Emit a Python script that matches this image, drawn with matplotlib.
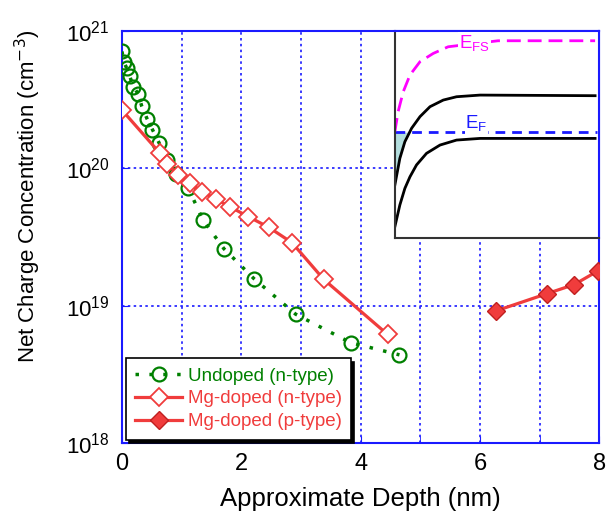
import matplotlib
matplotlib.use("Agg")
import matplotlib.pyplot as plt
from matplotlib.ticker import MultipleLocator

plt.rcParams["font.family"] = ["Liberation Sans", "DejaVu Sans"]

# 未掺杂 (n-type)
undoped_x = [0.0, 0.03, 0.08, 0.13, 0.19, 0.27, 0.33, 0.42, 0.51, 0.62, 0.76, 0.90,
             1.11, 1.36, 1.71, 2.21, 2.91, 3.83, 4.65]
undoped_y = [7.1e20, 6.0e20, 5.35e20, 4.7e20, 3.93e20, 3.5e20, 2.85e20, 2.3e20, 1.92e20,
             1.54e20, 1.15e20, 9.1e19, 7.2e19, 4.2e19, 2.6e19, 1.58e19, 8.7e18, 5.4e18, 4.4e18]

# Mg 掺杂 (n-type)
mg_n_x = [0.0, 0.63, 0.76, 0.94, 1.14, 1.34, 1.58, 1.81, 2.12, 2.46, 2.85, 3.38, 4.45]
mg_n_y = [2.66e20, 1.30e20, 1.08e20, 8.95e19, 7.8e19, 6.77e19, 5.96e19, 5.26e19,
          4.45e19, 3.73e19, 2.88e19, 1.56e19, 6.2e18]

# Mg 掺杂 (p-type)
mg_p_x = [6.27, 7.13, 7.58, 7.97]
mg_p_y = [9.2e18, 1.23e19, 1.43e19, 1.79e19]

# 插图：能带示意 (坐标 0..1)
cb_x = [0.0, 0.0245, 0.049, 0.082, 0.123, 0.172, 0.237, 0.302, 0.417, 0.98]
cb_y = [0.257, 0.386, 0.466, 0.531, 0.587, 0.635, 0.667, 0.683, 0.691, 0.688]
vb_x = [0.0, 0.0245, 0.049, 0.074, 0.106, 0.155, 0.221, 0.302, 0.417, 0.98]
vb_y = [0.056, 0.161, 0.241, 0.297, 0.354, 0.410, 0.450, 0.474, 0.482, 0.482]
efs_x = [0.0, 0.016, 0.041, 0.074, 0.123, 0.188, 0.261, 0.505, 0.98]
efs_y = [0.514, 0.611, 0.707, 0.788, 0.852, 0.892, 0.924, 0.953, 0.953]
ef_level = 0.512

blue = "#1a1aff"
green = "#008000"
red = "#f03c3c"

fig = plt.figure(figsize=(6.16, 5.17), dpi=100)
ax = fig.add_axes([0.198, 0.1426, 0.775, 0.7974])

ax.plot(undoped_x, undoped_y, linestyle=(0, (1, 3)), color=green, linewidth=2.5,
        marker="o", markersize=10, markerfacecolor="none", markeredgecolor=green,
        markeredgewidth=1.6, label="Undoped (n-type)", zorder=3)
ax.plot(mg_n_x, mg_n_y, color=red, linewidth=2.3, marker="D", markersize=9,
        markerfacecolor="white", markeredgecolor=red, markeredgewidth=1.3,
        label="Mg-doped (n-type)", zorder=4)
ax.plot(mg_p_x, mg_p_y, color=red, linewidth=2.3, marker="D", markersize=9,
        markerfacecolor=red, markeredgecolor="#c02020", markeredgewidth=1.0,
        label="Mg-doped (p-type)", zorder=4)

ax.set_yscale("log")
ax.set_xlim(0, 8)
ax.set_ylim(1e18, 1e21)
ax.xaxis.set_major_locator(MultipleLocator(2))
ax.xaxis.set_minor_locator(MultipleLocator(1))
ax.yaxis.set_minor_locator(plt.NullLocator())

ax.grid(True, which="both", axis="x", color=blue, linestyle=(0, (1.5, 2)), linewidth=1.2)
ax.grid(True, which="major", axis="y", color=blue, linestyle=(0, (1.5, 2)), linewidth=1.2)

for s in ax.spines.values():
    s.set_color(blue)
    s.set_linewidth(1.5)
ax.tick_params(which="both", direction="in", colors=blue, labelcolor="black",
               length=5, top=False, right=False)
ax.tick_params(axis="x", labelsize=17, pad=7)
ax.tick_params(axis="y", labelsize=16, pad=9)

ax.set_xlabel("Approximate Depth (nm)", fontsize=18.5, labelpad=9)
ax.set_ylabel("Net Charge Concentration (cm$^{-3}$)", fontsize=16)
ax.yaxis.set_label_coords(-0.165, 0.60)

leg = ax.legend(loc="lower left", bbox_to_anchor=(0, 0), borderaxespad=0.2,
                fontsize=13.5, frameon=True, fancybox=False, handlelength=2.5,
                handletextpad=0.3, labelspacing=0.3, borderpad=0.5,
                shadow={"color": "black", "alpha": 1.0, "ox": 2.5, "oy": -2.5})
leg.get_frame().set_edgecolor("black")
leg.get_frame().set_linewidth(1.2)
for txt, c in zip(leg.get_texts(), [green, red, red]):
    txt.set_color(c)

# 插图
ins = fig.add_axes([0.641, 0.539, 0.3317, 0.401])
ins.set_xlim(0, 1)
ins.set_ylim(0, 1)
ins.set_xticks([])
ins.set_yticks([])
ins.fill_between(cb_x[:4], cb_y[:4], ef_level, where=[v < ef_level for v in cb_y[:4]],
                 interpolate=True, color="#b3dede", linewidth=0)
ins.plot(cb_x, cb_y, color="black", linewidth=2)
ins.plot(vb_x, vb_y, color="black", linewidth=2)
ins.plot([0, 0.99], [ef_level, ef_level], color="#1a1aff", linestyle=(0, (3.5, 2.5)),
         linewidth=2)
ins.plot(efs_x, efs_y, color="#ff00ff", linestyle=(0, (5, 2.5)), linewidth=2)
ins.text(0.39, 0.94, "E$_\\mathregular{FS}$", color="#ff00ff", fontsize=13.5,
         ha="center", va="center",
         bbox=dict(facecolor="white", edgecolor="none", pad=1))
ins.text(0.40, 0.55, "E$_\\mathregular{F}$", color="#1a1aff", fontsize=13.5,
         ha="center", va="center",
         bbox=dict(facecolor="white", edgecolor="none", pad=0.5))
for side in ["left", "bottom"]:
    ins.spines[side].set_color("#333333")
    ins.spines[side].set_linewidth(1.5)
for side in ["top", "right"]:
    ins.spines[side].set_color(blue)
    ins.spines[side].set_linewidth(1.5)

fig.savefig("out.png", dpi=100)
